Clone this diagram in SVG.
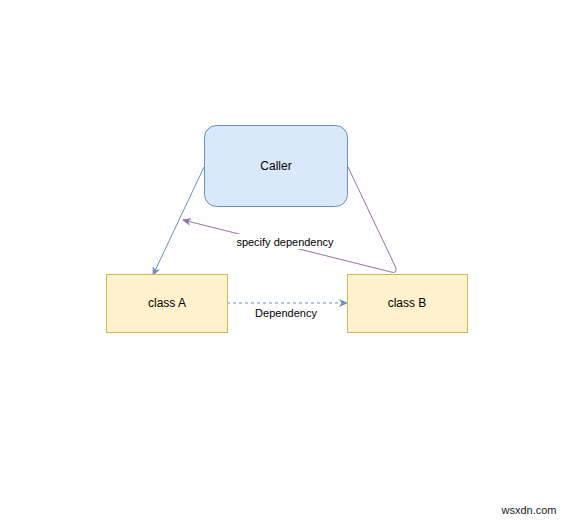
<svg xmlns="http://www.w3.org/2000/svg" width="573" height="521" viewBox="0 0 573 521">
<style>
.lbl{font-family:"Liberation Sans",Arial,sans-serif;font-size:12px;fill:#000;text-anchor:middle;dominant-baseline:central}
.elbl{font-family:"Liberation Sans",Arial,sans-serif;font-size:11px;fill:#000;text-anchor:middle;dominant-baseline:central}
.yel{fill:#fff2cc;stroke:#d6b656;stroke-width:1}
</style>
<defs>
<marker id="ab" markerWidth="10" markerHeight="10" refX="8" refY="4" orient="auto" markerUnits="userSpaceOnUse"><path d="M0,0 L9,4 L0,8 L2.5,4 Z" fill="#6c8ebf"/></marker>
<marker id="ap" markerWidth="10" markerHeight="10" refX="8" refY="4" orient="auto" markerUnits="userSpaceOnUse"><path d="M0,0 L9,4 L0,8 L2.5,4 Z" fill="#9673a6"/></marker>
</defs>
<rect width="573" height="521" fill="#fff"/>
<g id="connectors" fill="none">
<path d="M204,167 L153,275" stroke="#6c8ebf" marker-end="url(#ab)"/>
<path d="M348,167 L396,268 Q397,274 391,272 L183,220" stroke="#9673a6" marker-end="url(#ap)"/>
<path d="M227,303 L347,303" stroke="#6c8ebf" stroke-dasharray="3,3" marker-end="url(#ab)"/>
<rect x="234" y="234" width="102" height="15" fill="#fff"/>
<text class="elbl" x="285" y="242">specify dependency</text>
<text class="elbl" x="286" y="313">Dependency</text>
</g>
<g id="caller">
<rect x="204.5" y="125.5" width="143" height="81" rx="12" fill="#dae8fc" stroke="#6c8ebf"/>
<text class="lbl" x="276" y="166">Caller</text>
</g>
<g id="classA">
<rect class="yel" x="106.5" y="274.5" width="121" height="58"/>
<text class="lbl" x="167" y="303">class A</text>
</g>
<g id="classB">
<rect class="yel" x="347.5" y="274.5" width="120" height="58"/>
<text class="lbl" x="407" y="303">class B</text>
</g>
<text x="529" y="510" font-family="Liberation Sans,Arial,sans-serif" font-size="11" fill="#222" text-anchor="middle" dominant-baseline="central">wsxdn.com</text>
</svg>
